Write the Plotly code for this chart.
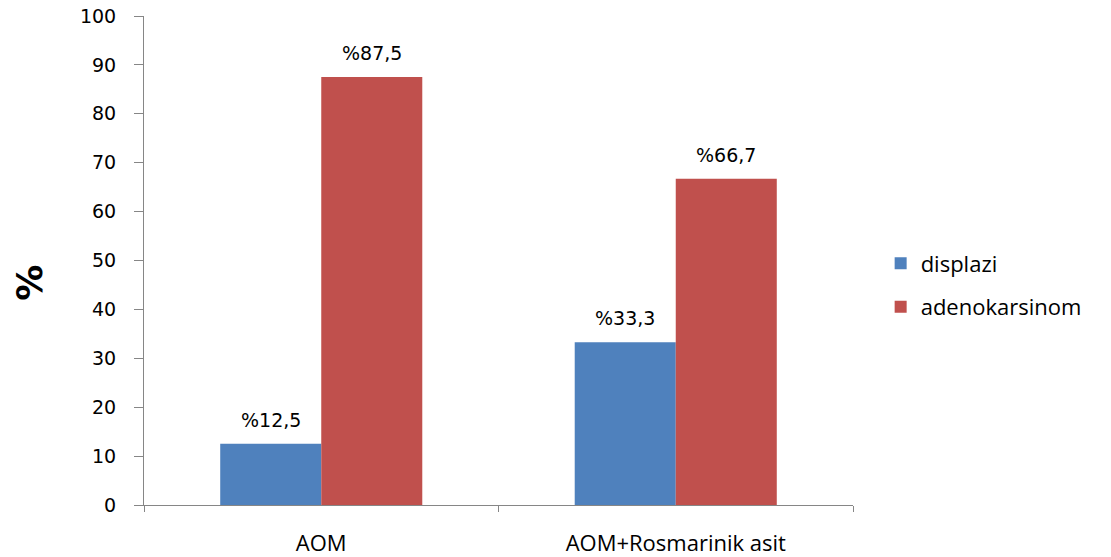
import plotly.graph_objects as go

# Groups and series
categories = ["AOM", "AOM+Rosmarinik asit"]
displazi = [12.5, 33.3]
adenokarsinom = [87.5, 66.7]
series_names = ["displazi", "adenokarsinom"]
series_colors = ["#4F81BD", "#C0504D"]
y_ticks = list(range(0, 101, 10))

BARGAP = 0.43
NUM_FONT = "DejaVu Sans"
TXT_FONT = "Open Sans"


def pct_label(v):
    return "%" + f"{v:.1f}".replace(".", ",")


fig = go.Figure()
for name, vals, col in zip(series_names, [displazi, adenokarsinom], series_colors):
    fig.add_trace(go.Bar(
        x=categories, y=vals, name=name, legendgroup=name,
        marker=dict(color=col, line=dict(width=0)),
    ))

# value labels above each bar, centred over the bar within its group
n_series = 2
bar_w = (1 - BARGAP) / n_series
for s, vals in enumerate([displazi, adenokarsinom]):
    offset = -(1 - BARGAP) / 2 + bar_w * (s + 0.5)
    for ci, v in enumerate(vals):
        fig.add_annotation(
            x=ci + offset, y=v, xref="x", yref="y",
            text=pct_label(v), showarrow=False,
            xanchor="center", yanchor="middle", yshift=24,
            font=dict(family=NUM_FONT, size=19, color="#000000"),
        )

# rotated percent sign as the value axis title
fig.add_annotation(
    x=-0.162, y=0.455, xref="paper", yref="paper",
    xanchor="center", yanchor="middle",
    text="<b>%</b>", showarrow=False, textangle=-90,
    font=dict(family="DejaVu Sans", size=36, color="#000000"),
)

fig.update_layout(
    width=1111, height=557,
    margin=dict(l=144, r=258, t=16, b=52),
    paper_bgcolor="white", plot_bgcolor="white",
    barmode="group", bargap=BARGAP, bargroupgap=0,
    showlegend=True,
    legend=dict(
        x=1.039, y=0.537, xanchor="left", yanchor="top",
        traceorder="grouped", tracegroupgap=12,
        font=dict(family=TXT_FONT, size=22, color="#000000"),
        bgcolor="rgba(0,0,0,0)",
    ),
    xaxis=dict(
        type="category", showline=True, linecolor="#868686", linewidth=1,
        ticks="outside", tickson="boundaries", ticklen=6, tickcolor="#868686",
        showgrid=False, zeroline=False, automargin=False,
        tickfont=dict(family=TXT_FONT, size=22, color="#000000"),
        ticklabelstandoff=19,
    ),
    yaxis=dict(
        range=[0, 100], tickvals=y_ticks, showline=True, linecolor="#868686",
        linewidth=1, ticks="outside", ticklen=9, tickcolor="#868686",
        showgrid=False, zeroline=False, automargin=False,
        tickfont=dict(family=NUM_FONT, size=19, color="#000000"),
        ticklabelstandoff=14,
    ),
)

fig.write_html("out.html")
